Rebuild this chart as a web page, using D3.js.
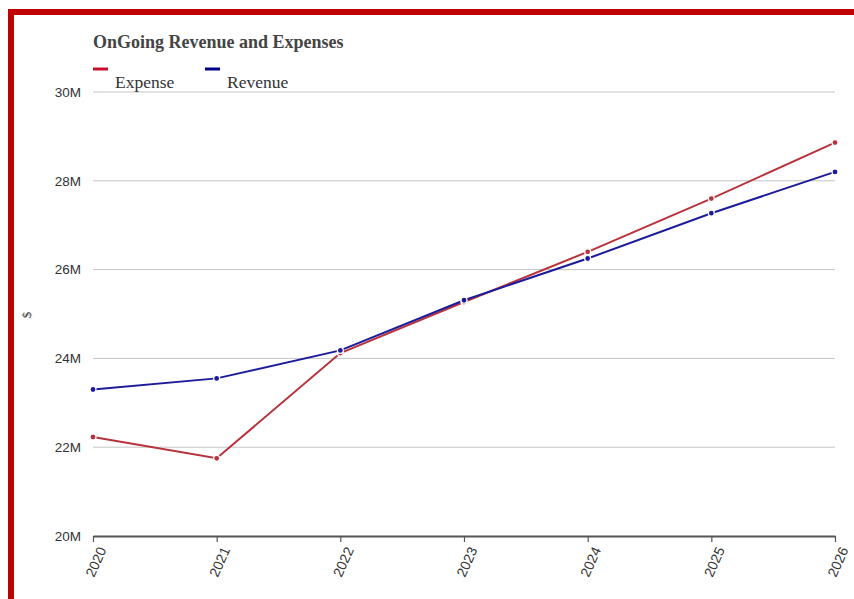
<!DOCTYPE html>
<html><head><meta charset="utf-8">
<script src="https://cdn.jsdelivr.net/npm/d3@7"></script>
<style>html,body{margin:0;padding:0;background:#fff;overflow:hidden}</style>
</head><body>
<svg id="c" width="854" height="599"></svg>
<script>
const years = [2020, 2021, 2022, 2023, 2024, 2025, 2026];
const expense = [22.23, 21.75, 24.12, 25.27, 26.40, 27.60, 28.86];
const revenue = [23.30, 23.55, 24.18, 25.31, 26.25, 27.27, 28.20];
const yTicks = [20, 22, 24, 26, 28, 30];
const seriesNames = ["Expense", "Revenue"];
const seriesColors = ["#b8323c", "#1c1c9a"];

const svg = d3.select("#c");
// frame
svg.append("rect").attr("x", 0).attr("y", 0).attr("width", 854).attr("height", 599).attr("fill", "#fff");
svg.append("rect").attr("x", 8).attr("y", 9).attr("width", 854).attr("height", 6).attr("fill", "#c00000");
svg.append("rect").attr("x", 8).attr("y", 9).attr("width", 6).attr("height", 600).attr("fill", "#c00000");

const x = d3.scalePoint().domain(years).range([93, 835]);
const y = d3.scaleLinear().domain([20, 30]).range([536, 92]);

// grid
svg.append("g").selectAll("line").data(yTicks.slice(1)).join("line")
  .attr("x1", 93).attr("x2", 835).attr("y1", d => y(d)).attr("y2", d => y(d))
  .attr("stroke", "#c4c4c4").attr("stroke-width", 1);

// y axis labels
const yAxis = svg.append("g").attr("transform", "translate(93,0)")
  .call(d3.axisLeft(y).tickValues(yTicks).tickSize(0).tickPadding(12).tickFormat(d => d + "M"));
yAxis.select(".domain").remove();
yAxis.selectAll("text").attr("font-family", "Liberation Sans, Arial, sans-serif").attr("font-size", 13.5).attr("fill", "#333");

// x axis
const xAxis = svg.append("g").attr("transform", "translate(0,536)")
  .call(d3.axisBottom(x).tickSize(6).tickSizeOuter(0));
xAxis.select(".domain").attr("stroke", "#555").attr("stroke-width", 2);
xAxis.selectAll(".tick line").attr("stroke", "#555").attr("stroke-width", 1.2);
xAxis.selectAll("text").attr("font-family", "Liberation Sans, Arial, sans-serif").attr("font-size", 14).attr("fill", "#333")
  .attr("text-anchor", "end").attr("dy", 0).attr("transform", "translate(5,10) rotate(-66)");

// y axis title
svg.append("text").attr("transform", "translate(31,315) rotate(-90)").attr("text-anchor", "middle")
  .attr("font-family", "Liberation Serif, serif").attr("font-size", 13).attr("fill", "#333").text("$");

// title
svg.append("text").attr("x", 93).attr("y", 48).attr("font-family", "Liberation Serif, Times New Roman, serif")
  .attr("font-weight", "bold").attr("font-size", 18).attr("fill", "#444").text("OnGoing Revenue and Expenses");

// legend
const legX = [93, 205];
seriesNames.forEach((n, i) => {
  svg.append("line").attr("x1", legX[i]).attr("x2", legX[i] + 15).attr("y1", 69).attr("y2", 69)
    .attr("stroke", i === 0 ? "#c8102e" : "#00008b").attr("stroke-width", 3);
  svg.append("text").attr("x", legX[i] + 22).attr("y", 88).attr("font-family", "Liberation Serif, Times New Roman, serif")
    .attr("font-size", 17.5).attr("fill", "#333").text(n);
});

// lines
const data = [expense, revenue];
const line = d3.line().x((d, i) => x(years[i])).y(d => y(d));
data.forEach((s, k) => {
  svg.append("path").datum(s).attr("d", line).attr("fill", "none")
    .attr("stroke", seriesColors[k]).attr("stroke-width", 2);
});
data.forEach((s, k) => {
  svg.append("g").selectAll("circle").data(s).join("circle")
    .attr("cx", (d, i) => x(years[i])).attr("cy", d => y(d)).attr("r", 3)
    .attr("fill", seriesColors[k]).attr("stroke", "#fff").attr("stroke-width", 1.2);
});
</script>
</body></html>
